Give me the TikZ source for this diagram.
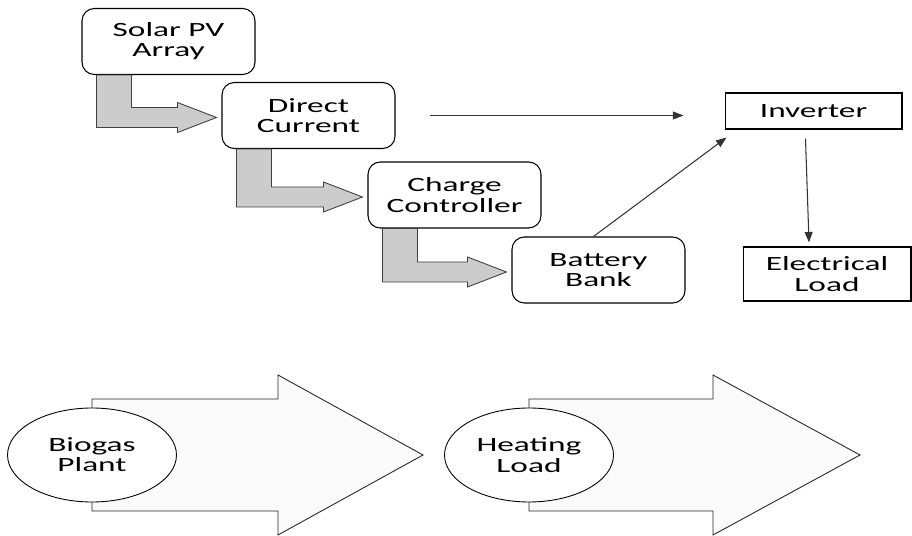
\documentclass[tikz,border=0pt]{standalone}
\usepackage{fontspec}
\setmainfont[FakeStretch=1.65]{Carlito}
\usepackage{tikz}
\usetikzlibrary{calc,arrows.meta,shapes.geometric,backgrounds}

\tikzset{
  stage/.style={draw, rounded corners=7pt, fill=white, line width=0.6pt, minimum width=3.46cm, minimum height=1.32cm, align=center, inner sep=1pt},
  plainbox/.style={draw, fill=white, line width=0.6pt, align=center, inner sep=1pt},
  plant/.style={draw, ellipse, fill=white, line width=0.5pt, minimum width=3.38cm, minimum height=1.88cm, align=center, inner sep=1pt},
  feedarrow/.style={fill=gray!40, draw=black!75, line width=0.5pt},
  bigarrow/.style={fill=gray!4, draw=black!85, line width=0.5pt},
  wire/.style={-{Triangle[length=6pt,width=4.5pt]}, line width=0.6pt, black!80}
}

\begin{document}
\begin{tikzpicture}[x=0.02cm, y=-0.02cm, font=\fontsize{11.5}{11.5}\selectfont]
\useasboundingbox (0,0) rectangle (912,536);

% Solar chain
\node[stage] (solar) at (168.5,41.5) {Solar PV\\Array};
\node[stage] (dc) at (308.5,115.5) {Direct\\Current};
\node[stage] (cc) at (454.5,195) {Charge\\Controller};
\node[stage] (battery) at (598.5,270) {Battery\\Bank};

% Inverter and load
\node[plainbox, minimum width=3.54cm, minimum height=0.72cm] (inverter) at (813.5,111) {Inverter};
\node[plainbox, minimum width=3.36cm, minimum height=1.08cm] (load) at (827,274) {Electrical\\Load};

% Bent arrows
\path[feedarrow] ($(solar.south west)+(15,0)$) -- ($(solar.south west)+(50,0)$) -- ($(solar.south west |- dc.west)+(50,-8)$) -- ($(dc.west)+(-44,-8)$) -- ($(dc.west)+(-44,-13)$)
  -- ($(dc.west)+(-5,2)$) -- ($(dc.west)+(-44,17)$) -- ($(dc.west)+(-44,12)$) -- ($(solar.south west |- dc.west)+(15,12)$) -- cycle;
\path[feedarrow] ($(dc.south west)+(15,0)$) -- ($(dc.south west)+(50,0)$) -- ($(dc.south west |- cc.west)+(50,-8)$) -- ($(cc.west)+(-44,-8)$) -- ($(cc.west)+(-44,-13)$)
  -- ($(cc.west)+(-5,2)$) -- ($(cc.west)+(-44,17)$) -- ($(cc.west)+(-44,12)$) -- ($(dc.south west |- cc.west)+(15,12)$) -- cycle;
\path[feedarrow] ($(cc.south west)+(15,0)$) -- ($(cc.south west)+(50,0)$) -- ($(cc.south west |- battery.west)+(50,-8)$) -- ($(battery.west)+(-44,-8)$) -- ($(battery.west)+(-44,-13)$)
  -- ($(battery.west)+(-5,2)$) -- ($(battery.west)+(-44,17)$) -- ($(battery.west)+(-44,12)$) -- ($(cc.south west |- battery.west)+(15,12)$) -- cycle;

\draw[wire, shorten <=0.68cm, shorten >=0.82cm] (dc.east) -- (dc.east -| inverter.west);
\draw[wire] ($(battery.north)+(-5,0)$) -- ($(inverter.south west)+(2,8)$);
\draw[wire] ($(inverter.south)+(-8,9)$) -- ($(load.north)+(-18,-4)$);

% Biogas row
\node[plant] (biogas) at (92,455) {Biogas\\Plant};
\node[plant] (heating) at (529,455) {Heating\\Load};

\begin{pgfonlayer}{background}
\path[bigarrow] (biogas.center) ++(0,-56) -- ++(186,0) -- ++(0,-24) -- ++(145,80) -- ++(-145,80) -- ++(0,-24) -- ++(-186,0) -- cycle;
\path[bigarrow] (heating.center) ++(0,-56) -- ++(184,0) -- ++(0,-24) -- ++(147,80) -- ++(-147,80) -- ++(0,-24) -- ++(-184,0) -- cycle;
\end{pgfonlayer}

\end{tikzpicture}
\end{document}
